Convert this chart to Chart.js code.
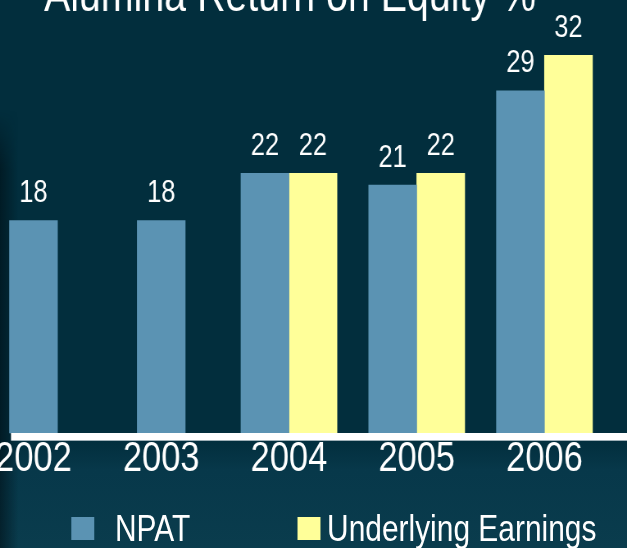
<!DOCTYPE html>
<html><head><meta charset="utf-8">
<script src="https://cdn.jsdelivr.net/npm/chart.js@4.4.1/dist/chart.umd.min.js"></script>
<style>
html,body{margin:0;padding:0;width:627px;height:548px;overflow:hidden;background:#03303f;}
#wrap{position:absolute;left:0;top:0;width:627px;height:548px;overflow:hidden;
 background:linear-gradient(to bottom,#022e3d 0,#022e3d 440px,#07384a 470px,#0a3c4d 548px);}
#shade{position:absolute;left:0;top:110px;width:18px;height:438px;
 background:linear-gradient(to right,rgba(0,12,18,0.55),rgba(0,12,18,0));
 -webkit-mask-image:linear-gradient(to bottom,transparent 0,#000 60px);}
#stage{position:absolute;left:0;top:0;width:765px;height:548px;transform:scaleX(0.81961);transform-origin:0 0;}
#c{position:absolute;left:0;top:-31px;}
#legend{position:absolute;top:511px;left:0;width:765px;height:37px;font:36.5px/35px 'Liberation Sans',Arial,sans-serif;color:#fff;}
.sw{position:absolute;top:6px;width:28px;height:23px;}
.lt{position:absolute;top:0;white-space:nowrap;}
</style>
</head><body>
<div id="wrap">
<div id="shade"></div>
<div id="stage">
<canvas id="c" width="765" height="579"></canvas>
<div id="legend"></div>
</div>
</div>
<script>
const chartTitle = 'Alumina Return on Equity %';
const years = ['2002', '2003', '2004', '2005', '2006'];
const npat = [18, 18, 22, 21, 29];
const underlying = [null, null, 22, 22, 32];
const seriesNames = ['NPAT', 'Underlying Earnings'];

const FONT = "'Liberation Sans',Arial,sans-serif";
const colors = ['#5b93b3', '#ffff99'];
const labelGap = 18.5;

const valueLabels = {
  id: 'valueLabels',
  afterDatasetsDraw(chart) {
    const ctx = chart.ctx;
    ctx.save();
    ctx.fillStyle = '#ffffff';
    ctx.font = '31px ' + FONT;
    ctx.textAlign = 'center';
    ctx.textBaseline = 'alphabetic';
    chart.data.datasets.forEach((ds, di) => {
      const meta = chart.getDatasetMeta(di);
      meta.data.forEach((el, i) => {
        const v = ds.data[i];
        if (v === null || v === undefined) return;
        ctx.fillText(String(v), el.x, el.y - labelGap);
      });
    });
    ctx.restore();
  }
};

const baseLine = {
  id: 'baseLine',
  afterDatasetsDraw(chart) {
    const {ctx, chartArea} = chart;
    ctx.save();
    ctx.fillStyle = '#ffffff';
    ctx.fillRect(13.4, chartArea.bottom, chart.width - 13.4, 7);
    ctx.fillStyle = 'rgba(200,210,215,0.8)';
    ctx.fillRect(13.4, chartArea.bottom + 7, chart.width - 13.4, 1);
    ctx.restore();
  }
};

const chart = new Chart(document.getElementById('c'), {
  type: 'bar',
  data: {
    labels: years,
    datasets: [
      { label: seriesNames[0], data: npat, backgroundColor: colors[0], barThickness: 58.6, skipNull: true, clip: false },
      { label: seriesNames[1], data: underlying, backgroundColor: colors[1], barThickness: 58.6, skipNull: true, clip: false }
    ]
  },
  options: {
    responsive: false,
    animation: false,
    layout: { padding: { left: 0, right: 57.4, top: 0, bottom: 62.6 } },
    plugins: {
      legend: { display: false },
      tooltip: { enabled: false },
      title: {
        display: true, text: chartTitle, color: '#ffffff',
        font: { family: FONT, size: 48, weight: 'normal' },
        padding: { top: 0, bottom: 0 }
      }
    },
    scales: {
      x: {
        type: 'linear', min: 2001.738, max: 2006.278, offset: false,
        grid: { display: false, drawTicks: false },
        border: { display: false },
        afterBuildTicks: s => { s.ticks = years.map(y => ({ value: +y })); },
        afterFit: s => { s.paddingLeft = 0; s.paddingRight = 0; },
        ticks: {
          color: '#ffffff', font: { family: FONT, size: 42 }, padding: 1,
          maxRotation: 0, minRotation: 0, autoSkip: false,
          callback: v => String(v)
        }
      },
      y: { display: false, min: 0, max: 34.44 }
    }
  },
  plugins: [baseLine, valueLabels]
});

// HTML legend built from the chart datasets
const legendPos = [{ box: 86.6, text: 140.3 }, { box: 363.4, text: 399 }];
const legendEl = document.getElementById('legend');
chart.data.datasets.forEach((ds, i) => {
  const sw = document.createElement('span');
  sw.className = 'sw';
  sw.style.left = legendPos[i].box + 'px';
  sw.style.background = ds.backgroundColor;
  const t = document.createElement('span');
  t.className = 'lt';
  t.style.left = legendPos[i].text + 'px';
  t.textContent = ds.label;
  legendEl.appendChild(sw);
  legendEl.appendChild(t);
});
</script>
</body></html>
